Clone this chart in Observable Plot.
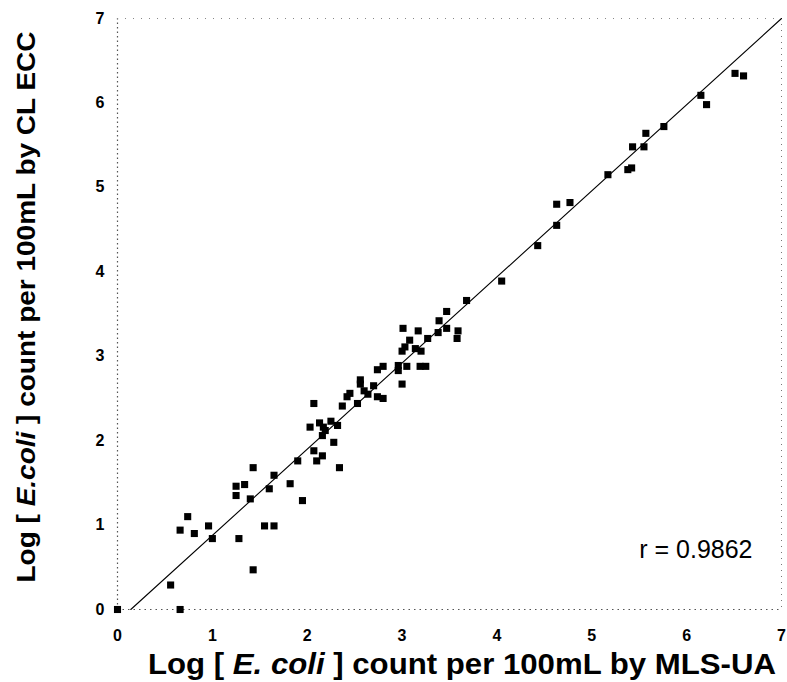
<!DOCTYPE html>
<html>
<head>
<meta charset="utf-8">
<script src="https://cdn.jsdelivr.net/npm/d3@7"></script>
<script src="https://cdn.jsdelivr.net/npm/@observablehq/plot@0.6"></script>
<style>
  html, body { margin: 0; padding: 0; background: #fff; }
  #chart { width: 787px; height: 682px; }
</style>
</head>
<body>
<div id="chart"></div>
<script>
// Log E. coli by MLS-UA (x) and by CL ECC (y)
const mlsUA = [0.00,0.66,0.56,0.66,0.74,0.81,0.96,1.00,1.28,1.25,1.25,1.34,1.43,1.40,1.43,1.55,1.65,1.60,1.65,1.82,1.90,1.95,2.07,2.10,2.16,2.34,2.28,2.16,2.03,2.13,2.17,2.19,2.25,2.32,2.07,2.37,2.42,2.45,2.53,2.56,2.56,2.60,2.64,2.70,2.74,2.80,2.74,2.80,2.96,2.96,3.05,3.00,3.19,3.25,3.00,3.03,3.08,3.14,3.20,3.01,3.17,3.27,3.38,3.39,3.47,3.47,3.59,3.58,3.68,4.05,4.43,4.63,4.63,4.77,5.17,5.38,5.42,5.43,5.55,5.57,5.76,6.15,6.21,6.51,6.60];
const clECC = [0.00,0.00,0.29,0.94,1.10,0.90,0.99,0.84,0.84,1.35,1.46,1.48,0.47,1.31,1.68,0.99,0.99,1.43,1.59,1.49,1.76,1.29,1.88,1.76,1.82,1.68,1.98,2.06,2.16,2.21,2.16,2.12,2.23,2.18,2.44,2.41,2.52,2.56,2.44,2.72,2.67,2.59,2.55,2.65,2.52,2.50,2.84,2.88,2.89,2.83,2.88,2.67,2.88,2.88,3.06,3.11,3.19,3.09,3.06,3.33,3.30,3.21,3.28,3.42,3.53,3.33,3.30,3.21,3.66,3.89,4.31,4.55,4.80,4.82,5.15,5.21,5.23,5.48,5.48,5.64,5.72,6.09,5.98,6.35,6.32];
// fitted line end points
const fitX = [0.14, 7];
const fitY = [0, 7];
const tickValues = [0, 1, 2, 3, 4, 5, 6, 7];
const rLabel = "r = 0.9862";

const points = mlsUA.map((x, i) => ({x, y: clECC[i]}));
const fit = fitX.map((x, i) => ({x, y: fitY[i]}));

const W = 787, H = 682;
const mL = 117, mR = 6, mT = 18, mB = 73;
const FONT = "'Liberation Sans', Arial, sans-serif";

const plot = Plot.plot({
  width: W,
  height: H,
  marginLeft: mL,
  marginRight: mR,
  marginTop: mT,
  marginBottom: mB,
  style: {fontFamily: FONT, background: "#fff", overflow: "visible"},
  x: {domain: [0, 7], ticks: tickValues, label: null},
  y: {domain: [0, 7], ticks: tickValues, label: null},
  marks: [
    Plot.axisX({ticks: tickValues, tickSize: 0, tickPadding: 20, fontSize: 16, fontWeight: "bold", label: null, tickFormat: d => d}),
    Plot.axisY({ticks: tickValues, tickSize: 0, tickPadding: 13, fontSize: 16, fontWeight: "bold", label: null, tickFormat: d => d}),
    Plot.ruleX([0], {stroke: "#555", strokeDasharray: "1.5,3", strokeWidth: 1.2}),
    Plot.ruleX([7], {stroke: "#777", strokeDasharray: "1,5", strokeWidth: 1}),
    Plot.ruleY([0], {stroke: "#555", strokeDasharray: "1.5,4", strokeWidth: 1.2}),
    Plot.ruleY([7], {stroke: "#888", strokeDasharray: "1,7", strokeWidth: 1}),
    Plot.line(fit, {x: "x", y: "y", stroke: "#000", strokeWidth: 1.1}),
    Plot.dot(points, {x: "x", y: "y", symbol: "square", r: 4, fill: "#000", stroke: "none"}),
    Plot.text([rLabel], {frameAnchor: "bottom-right", dx: -29, dy: -52, fontSize: 25, fill: "#000", textAnchor: "end"})
  ]
});

document.getElementById("chart").appendChild(plot);

// Axis titles with italic species name
const svg = d3.select(plot);
const xt = svg.append("text")
  .attr("x", 462).attr("y", 674)
  .attr("text-anchor", "middle")
  .attr("textLength", 628).attr("lengthAdjust", "spacingAndGlyphs")
  .attr("font-family", FONT)
  .attr("font-weight", "bold").attr("font-size", 30).attr("fill", "#000");
xt.append("tspan").text("Log [ ");
xt.append("tspan").attr("font-style", "italic").text("E. coli");
xt.append("tspan").text(" ] count per 100mL by MLS-UA");

const yt = svg.append("text")
  .attr("transform", "translate(35,307) rotate(-90)")
  .attr("text-anchor", "middle")
  .attr("textLength", 551).attr("lengthAdjust", "spacingAndGlyphs")
  .attr("font-family", FONT)
  .attr("font-weight", "bold").attr("font-size", 25).attr("fill", "#000");
yt.append("tspan").text("Log [ ");
yt.append("tspan").attr("font-style", "italic").text("E.coli");
yt.append("tspan").text(" ] count per 100mL by CL ECC");
</script>
</body>
</html>
